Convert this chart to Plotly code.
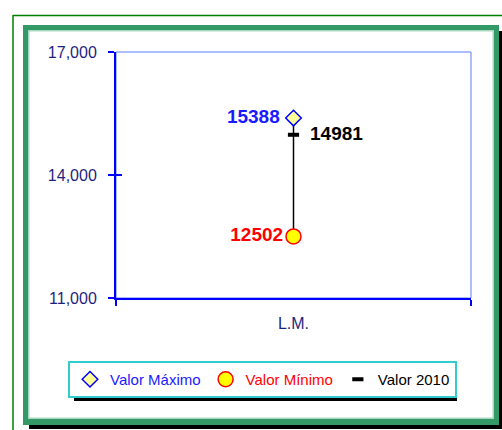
import plotly.graph_objects as go

# ---- data ----
categories = ["L.M."]
valor_maximo = [15388]
valor_minimo = [12502]
valor_2010 = [14981]
y_ticks = [11000, 14000, 17000]

W, H = 502, 430
L, R, T, B = 116, 471, 52, 298
PW, PH = R - L, B - T


def fx(x):
    return (x - L) / PW


def fy(y):
    return (B - y) / PH


fig = go.Figure()

# high-low line
fig.add_trace(go.Scatter(
    x=[categories[0], categories[0]], y=[valor_maximo[0], valor_minimo[0]],
    mode="lines", line=dict(color="black", width=1.5),
    showlegend=False, hoverinfo="skip"))

fig.add_trace(go.Scatter(
    x=categories, y=valor_maximo, name="<span style='color:#1a1aff'>Valor Máximo</span>",
    mode="markers+text", text=[f"{v}\u00a0" for v in valor_maximo],
    textposition="middle left",
    textfont=dict(family="Arial", size=19, color="#1a1aff", weight="bold"),
    marker=dict(symbol="diamond", size=12, color="#ffff99",
                line=dict(color="#0000ff", width=1.5))))

fig.add_trace(go.Scatter(
    x=categories, y=valor_minimo, name="<span style='color:#ff0000'>Valor Mínimo</span>",
    mode="markers+text", text=[str(v) for v in valor_minimo],
    textposition="middle left",
    textfont=dict(family="Arial", size=19, color="#ff0000", weight="bold"),
    marker=dict(symbol="circle", size=15, color="#ffff00",
                line=dict(color="#ff0000", width=1.5))))

fig.add_trace(go.Scatter(
    x=categories, y=valor_2010, name="<span style='color:#000000'>Valor 2010</span>",
    mode="markers+text", text=["\u00a0\u00a0" + str(v) for v in valor_2010],
    textposition="middle right",
    textfont=dict(family="Arial", size=19, color="#000000", weight="bold"),
    marker=dict(symbol="line-ew", size=8, color="black",
                line=dict(color="black", width=4))))

# empty trace so the overlay axes (inner tick halves) are drawn
fig.add_trace(go.Scatter(x=[], y=[], xaxis="x2", yaxis="y2",
                         showlegend=False, hoverinfo="skip"))

navy = "#1f1f80"
blue = "#0000ff"

shapes = [
    # frame shadow
    dict(type="rect", xref="paper", yref="paper", x0=fx(29), x1=fx(503), y0=fy(31), y1=fy(429),
         fillcolor="black", line=dict(width=0), layer="below"),
    # dark green frame
    dict(type="rect", xref="paper", yref="paper", x0=fx(23), x1=fx(499), y0=fy(25), y1=fy(425),
         fillcolor="#339966", line=dict(width=0), layer="below"),
    # light inner edge
    dict(type="rect", xref="paper", yref="paper", x0=fx(28), x1=fx(494), y0=fy(30), y1=fy(419),
         fillcolor="#a8d8c0", line=dict(width=0), layer="below"),
    # white inside
    dict(type="rect", xref="paper", yref="paper", x0=fx(29.5), x1=fx(492.5), y0=fy(31.5), y1=fy(417.5),
         fillcolor="white", line=dict(width=0), layer="below"),
    # thin outer green lines
    dict(type="line", xref="paper", yref="paper", x0=fx(13), x1=fx(503), y0=fy(15.5), y1=fy(15.5),
         line=dict(color="#008000", width=1.5), layer="below"),
    dict(type="line", xref="paper", yref="paper", x0=fx(13), x1=fx(13), y0=fy(15), y1=fy(431),
         line=dict(color="#008000", width=1.5), layer="below"),
    # plot area border (top/right light blue)
    dict(type="rect", xref="paper", yref="paper", x0=0, x1=1, y0=0, y1=1,
         fillcolor="rgba(0,0,0,0)", line=dict(color="#5a7dff", width=1), layer="below"),
    # legend shadow
    dict(type="rect", xref="paper", yref="paper", x0=fx(74), x1=fx(457), y0=fy(367), y1=fy(401),
         fillcolor="black", line=dict(width=0), layer="below"),
]

fig.update_layout(
    width=W, height=H,
    margin=dict(l=L, r=W - R, t=T, b=H - B, pad=0),
    paper_bgcolor="white", plot_bgcolor="rgba(0,0,0,0)",
    font=dict(family="Arial", size=16, color=navy),
    showlegend=True,
    legend=dict(orientation="h", x=fx(68), y=fy(361), xanchor="left", yanchor="top",
                bgcolor="white", bordercolor="#33cccc", borderwidth=2,
                font=dict(family="Arial", size=15, color="black"),
                itemwidth=30, tracegroupgap=0),
    shapes=shapes,
    xaxis=dict(type="category", range=[-0.5, 0.5], showgrid=False, zeroline=False,
               showline=True, linecolor=blue, linewidth=2,
               ticks="outside", ticklen=6, tickcolor=blue, tickwidth=1.5,
               tickson="boundaries", ticklabelstandoff=10,
               tickfont=dict(family="Arial", size=16, color=navy)),
    yaxis=dict(range=[11000, 17000], tickvals=y_ticks, tickformat=",",
               showgrid=False, zeroline=False,
               showline=True, linecolor=blue, linewidth=2,
               ticks="outside", ticklen=6, tickcolor=blue, tickwidth=1.5,
               ticklabelstandoff=8,
               tickfont=dict(family="Arial", size=16, color=navy)),
    xaxis2=dict(overlaying="x", anchor="y2", side="bottom", range=[-0.5, 0.5],
                tickvals=[-0.5, 0.5], showticklabels=False, showgrid=False,
                zeroline=False, showline=False,
                ticks="inside", ticklen=5, tickcolor=blue, tickwidth=1.5),
    yaxis2=dict(overlaying="y", anchor="x2", side="left", range=[11000, 17000], tickvals=y_ticks,
                showticklabels=False, showgrid=False, zeroline=False, showline=False,
                ticks="inside", ticklen=6, tickcolor=blue, tickwidth=1.5),
)

fig.write_html("out.html", config={"displayModeBar": False},
               post_script="document.body.style.margin='0px';document.body.style.overflow='hidden';")
